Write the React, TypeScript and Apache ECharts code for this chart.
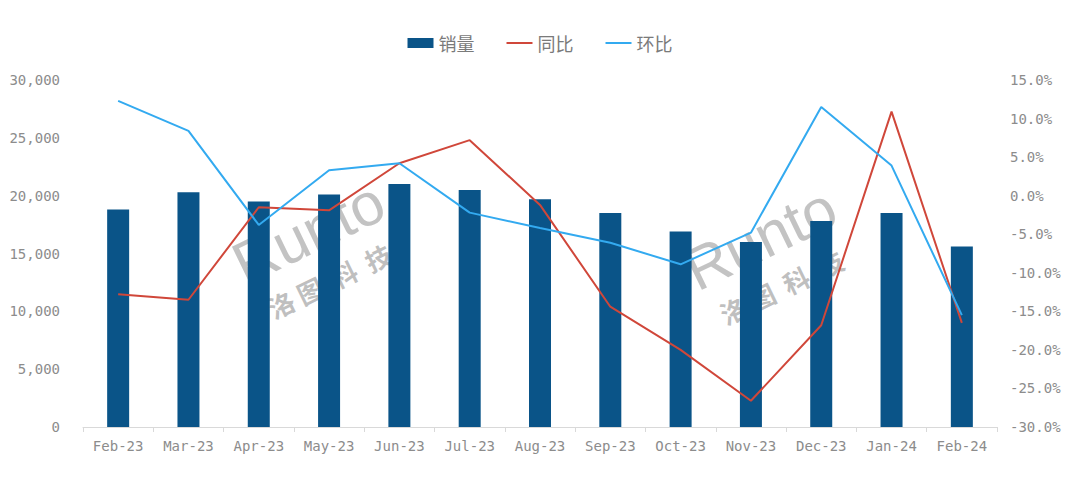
import React, { useEffect, useRef } from "react";
import * as echarts from "echarts";

const categories = ["Feb-23", "Mar-23", "Apr-23", "May-23", "Jun-23", "Jul-23", "Aug-23", "Sep-23", "Oct-23", "Nov-23", "Dec-23", "Jan-24", "Feb-24"];
const sales = [18800, 20300, 19500, 20100, 21000, 20500, 19700, 18500, 16900, 16000, 17800, 18500, 15600];
const yoy = [-12.8, -13.5, -1.5, -1.9, 4.2, 7.2, -1.2, -14.4, -20.0, -26.6, -16.8, 10.9, -16.5];
const mom = [12.3, 8.4, -3.8, 3.3, 4.2, -2.2, -4.2, -6.1, -8.9, -4.8, 11.5, 3.9, -15.5];

const BAR = "#0A5488";
const RED = "#D0473A";
const BLUE = "#33AAF0";
const LABEL = "#8c8c8c";
const MONO = "'DejaVu Sans Mono', 'Liberation Mono', monospace";
const LINE_ICON = "path://M0,0 M26,10 M0,4 L26,4 L26,6 L0,6 Z";

function watermark(x: number, y: number) {
  return {
    type: "group",
    x,
    y,
    rotation: 0.45,
    z: 100,
    children: [
      {
        type: "text",
        x: 0,
        y: -8,
        style: {
          text: "Runto",
          font: "60px 'Liberation Sans', sans-serif",
          fill: "rgba(180,180,180,0.8)",
          textAlign: "center",
          textVerticalAlign: "middle",
        },
      },
      {
        type: "text",
        x: -2,
        y: 44,
        style: {
          text: "洛 图  科  技",
          font: "bold 26px 'Noto Sans CJK SC', sans-serif",
          fill: "rgba(180,180,180,0.85)",
          textAlign: "center",
          textVerticalAlign: "middle",
        },
      },
    ],
  };
}

export default function App() {
  const ref = useRef<HTMLDivElement>(null);
  useEffect(() => {
    if (!ref.current) return;
    const chart = echarts.init(ref.current, null, { renderer: "svg" });
    chart.setOption({
      animation: false,
      backgroundColor: "#ffffff",
      legend: {
        top: 29,
        left: "center",
        itemWidth: 26,
        itemHeight: 10,
        itemGap: 32,
        textStyle: { fontSize: 18, color: "#7a7a7a", fontFamily: "'Noto Sans CJK SC', sans-serif" },
        data: [
          { name: "销量", icon: "rect" },
          { name: "同比", icon: LINE_ICON },
          { name: "环比", icon: LINE_ICON },
        ],
      },
      grid: { left: 83, right: 83, top: 80, bottom: 60 },
      xAxis: {
        type: "category",
        data: categories,
        axisLine: { lineStyle: { color: "#d9d9d9", width: 1 } },
        axisTick: { show: true, length: 5, lineStyle: { color: "#d9d9d9" } },
        axisLabel: { color: LABEL, fontSize: 14, fontFamily: MONO, margin: 12 },
      },
      yAxis: [
        {
          type: "value",
          min: 0,
          max: 30000,
          interval: 5000,
          splitLine: { show: false },
          axisLine: { show: false },
          axisTick: { show: false },
          axisLabel: {
            color: LABEL,
            fontSize: 14,
            fontFamily: MONO,
            margin: 23,
            formatter: (v: number) => v.toLocaleString("en-US"),
          },
        },
        {
          type: "value",
          min: -30,
          max: 15,
          interval: 5,
          splitLine: { show: false },
          axisLine: { show: false },
          axisTick: { show: false },
          axisLabel: {
            color: LABEL,
            fontSize: 14,
            fontFamily: MONO,
            margin: 13,
            formatter: (v: number) => v.toFixed(1) + "%",
          },
        },
      ],
      series: [
        {
          name: "销量",
          type: "bar",
          data: sales,
          barWidth: 22,
          itemStyle: { color: BAR },
        },
        {
          name: "同比",
          type: "line",
          yAxisIndex: 1,
          data: yoy,
          symbol: "none",
          lineStyle: { color: RED, width: 2 },
          itemStyle: { color: RED },
        },
        {
          name: "环比",
          type: "line",
          yAxisIndex: 1,
          data: mom,
          symbol: "none",
          lineStyle: { color: BLUE, width: 2 },
          itemStyle: { color: BLUE },
        },
      ],
      graphic: [watermark(312, 240), watermark(764, 246)],
    });
    return () => chart.dispose();
  }, []);
  return (
    <div
      ref={ref}
      style={{ position: "absolute", left: 0, top: 0, width: 1080, height: 487 }}
    />
  );
}
